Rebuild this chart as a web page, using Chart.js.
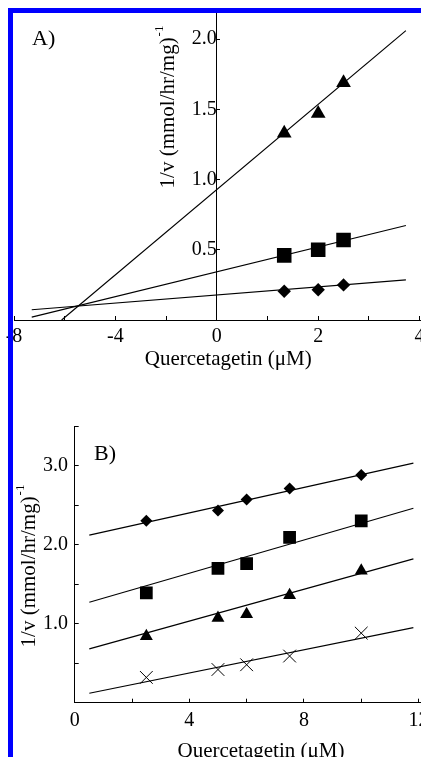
<!DOCTYPE html>
<html>
<head>
<meta charset="utf-8">
<script src="https://cdn.jsdelivr.net/npm/chart.js@4.4.1/dist/chart.umd.min.js"></script>
<style>
  html, body { margin: 0; padding: 0; background: #fff; }
  body { width: 421px; height: 757px; overflow: hidden; position: relative; }
  canvas { position: absolute; left: 0; }
  #chartA { top: 0; }
  #chartB { top: 380px; }
  .bar { position: absolute; background: #0000ff; z-index: 5; }
  .panel { position: absolute; font: 22px/1 'Liberation Serif', serif; color: #000; z-index: 4; }
</style>
</head>
<body>
<canvas id="chartA" width="460" height="380"></canvas>
<canvas id="chartB" width="460" height="400"></canvas>
<div class="panel" style="left:32px;top:27px">A)</div>
<div class="panel" style="left:94px;top:442px">B)</div>
<div class="bar" style="left:8px;top:8px;width:413px;height:5px"></div>
<div class="bar" style="left:8px;top:8px;width:5px;height:749px"></div>
<script>
// Lineweaver-Burk style plots, panels A and B

const SERIF = "'Liberation Serif', 'Times New Roman', serif";
const X_TITLE = "Quercetagetin (μM)";
const Y_TITLE = "1/v (mmol/hr/mg)";
const Y_TITLE_SUP = "-1";

// panel A (x in axis units; the printed labels run -8, -4 on the left half)
const A_X = [1.33, 2, 2.5];
const A_TRIANGLE = [1.33, 1.47, 1.69];
const A_SQUARE = [0.46, 0.5, 0.57];
const A_DIAMOND = [0.205, 0.215, 0.25];
const A_FIT_TRIANGLE_X = [-3.06, 3.73];
const A_FIT_TRIANGLE = [0, 2.06];
const A_FIT_X = [-3.65, 3.73];
const A_FIT_SQUARE = [0.02, 0.673];
const A_FIT_DIAMOND = [0.073, 0.285];
const A_X_TICKS = [-4, -3, -2, -1, 0, 1, 2, 3, 4];
const A_X_LABELS = ["-8", "", "-4", "", "0", "", "2", "", "4"];
const A_Y_TICKS = [0.5, 1, 1.5, 2];
const A_Y_LABELS = ["0.5", "1.0", "1.5", "2.0"];

// panel B
const B_X = [2.5, 5, 6, 7.5, 10];
const B_DIAMOND = [2.3, 2.43, 2.57, 2.71, 2.88];
const B_SQUARE = [1.39, 1.7, 1.76, 2.09, 2.3];
const B_TRIANGLE = [0.84, 1.07, 1.12, 1.36, 1.67];
const B_CROSS = [0.32, 0.42, 0.48, 0.59, 0.88];
const B_FIT_X = [0.51, 11.82];
const B_FIT_DIAMOND = [2.12, 3.03];
const B_FIT_SQUARE = [1.27, 2.46];
const B_FIT_TRIANGLE = [0.68, 1.82];
const B_FIT_CROSS = [0.12, 0.95];
const B_X_TICKS = [0, 2, 4, 6, 8, 10, 12];
const B_X_LABELS = ["0", "", "4", "", "8", "", "12"];
const B_Y_TICKS = [0, 0.5, 1, 1.5, 2, 2.5, 3, 3.5];
const B_Y_LABELS = ["", "", "1.0", "", "2.0", "", "3.0", ""];

Chart.defaults.color = "#000";
Chart.defaults.font.family = SERIF;

const pts = (xs, ys) => xs.map((x, i) => ({ x, y: ys[i] }));

function markers(xs, ys, style, radius) {
  return {
    data: pts(xs, ys),
    pointStyle: style,
    pointRadius: radius,
    backgroundColor: "#000",
    borderColor: "#000",
    borderWidth: style === "crossRot" ? 1 : 0,
  };
}

function fit(xs, ys) {
  return {
    data: pts(xs, ys),
    showLine: true,
    pointRadius: 0,
    borderColor: "#000",
    borderWidth: 1.2,
    fill: false,
  };
}

// fixed axis size, label padding ignored so the plot area sits where we want
function sized(prop, size) {
  return (s) => {
    s[prop] = size;
    s.paddingLeft = s.paddingRight = s.paddingTop = s.paddingBottom = 0;
  };
}

function axis(min, max, ticks, labels, pad, extra) {
  return {
    type: "linear",
    min,
    max,
    afterBuildTicks: (s) => {
      s.ticks = ticks.map((v) => ({ value: v }));
    },
    ticks: {
      autoSkip: false,
      maxRotation: 0,
      padding: pad,
      font: { family: SERIF, size: 20 },
      callback: (v, i) => labels[i],
    },
    grid: { drawOnChartArea: false, color: "#000", tickLength: -4 },
    border: { color: "#000", width: 1 },
    ...extra,
  };
}

const yTitle = {
  id: "yTitle",
  afterDraw(chart, args, opts) {
    const { ctx } = chart;
    ctx.save();
    ctx.translate(opts.x, opts.y);
    ctx.rotate(-Math.PI / 2);
    ctx.fillStyle = "#000";
    ctx.textBaseline = "middle";
    ctx.font = `21px ${SERIF}`;
    const w1 = ctx.measureText(Y_TITLE).width;
    ctx.font = `13px ${SERIF}`;
    const w2 = ctx.measureText(Y_TITLE_SUP).width;
    const x0 = -(w1 + w2 + 1) / 2;
    ctx.font = `21px ${SERIF}`;
    ctx.fillText(Y_TITLE, x0, 0);
    ctx.font = `13px ${SERIF}`;
    ctx.fillText(Y_TITLE_SUP, x0 + w1 + 1, -8);
    ctx.restore();
  },
};

const xTitle = (pb) => ({
  display: true,
  text: X_TITLE,
  font: { family: SERIF, size: 21 },
  padding: { top: 0, bottom: pb },
});

new Chart(document.getElementById("chartA"), {
  type: "scatter",
  data: {
    datasets: [
      markers(A_X, A_TRIANGLE, "triangle", 8.5),
      markers(A_X, A_SQUARE, "rect", 10.3),
      markers(A_X, A_DIAMOND, "rectRot", 6.7),
      fit(A_FIT_TRIANGLE_X, A_FIT_TRIANGLE),
      fit(A_FIT_X, A_FIT_SQUARE),
      fit(A_FIT_X, A_FIT_DIAMOND),
    ],
  },
  options: {
    responsive: false,
    animation: false,
    events: [],
    layout: { padding: { left: 14, top: 11, right: 17.6, bottom: 0 } },
    plugins: {
      legend: { display: false },
      tooltip: { enabled: false },
      yTitle: { x: 168, y: 107 },
    },
    scales: {
      x: axis(-4, 4.45, A_X_TICKS, A_X_LABELS, 9, {
        title: xTitle(8.4),
        afterFit: sized("height", 60),
      }),
      y: axis(0, 2.2, A_Y_TICKS, A_Y_LABELS, 8, {
        position: { x: 0 },
        afterFit: sized("width", 40),
      }),
    },
  },
  plugins: [yTitle],
});

new Chart(document.getElementById("chartB"), {
  type: "scatter",
  data: {
    datasets: [
      markers(B_X, B_DIAMOND, "rectRot", 6),
      markers(B_X, B_SQUARE, "rect", 9),
      markers(B_X, B_TRIANGLE, "triangle", 7.5),
      markers(B_X, B_CROSS, "crossRot", 9),
      fit(B_FIT_X, B_FIT_DIAMOND),
      fit(B_FIT_X, B_FIT_SQUARE),
      fit(B_FIT_X, B_FIT_TRIANGLE),
      fit(B_FIT_X, B_FIT_CROSS),
    ],
  },
  options: {
    responsive: false,
    animation: false,
    events: [],
    layout: { padding: { left: 0, top: 46, right: 12.8, bottom: 0 } },
    plugins: {
      legend: { display: false },
      tooltip: { enabled: false },
      yTitle: { x: 29, y: 186 },
    },
    scales: {
      x: axis(0, 13, B_X_TICKS, B_X_LABELS, 10.3, {
        title: xTitle(15.9),
        afterFit: sized("height", 77.3),
      }),
      y: axis(0, 3.5, B_Y_TICKS, B_Y_LABELS, 10.7, {
        afterFit: sized("width", 74.7),
      }),
    },
  },
  plugins: [yTitle],
});
</script>
</body>
</html>
